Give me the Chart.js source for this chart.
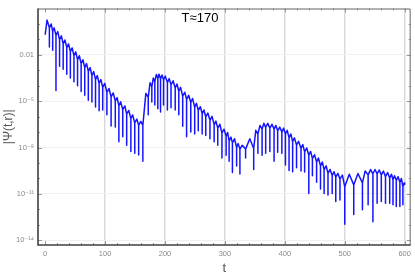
<!DOCTYPE html>
<html lang="en">
<head>
<meta charset="UTF-8">
<title>|Ψ(t,r)| against t</title>
<script src="https://cdn.jsdelivr.net/npm/chart.js"></script>
<style>
  html, body { margin: 0; padding: 0; background: #fff; }
  #wrap { width: 415px; height: 277px; }
</style>
</head>
<body>
<div id="wrap"><canvas id="psiChart"></canvas></div>
<script>
// first point of the curve and last point of the curve
const startT = 0, startV = 0.2;
const endT = 600, endV = 4.2e-11;

// tops of the arches (one more arch than there are dips)
const peakT = [
  3, 10, 15, 21, 27, 33, 39, 45, 51, 57, 63, 69, 75, 81, 87, 93, 99.5, 106.5, 113.5, 120, 126, 133, 139.5, 146, 153, 159.5, 168,
  175, 180.5, 185.5, 190, 195, 200.5, 207, 213.5, 220, 226, 233, 239.5, 246, 252.5, 259, 265, 271.5, 278.5, 285, 291.5, 298.5, 304.5, 310, 316, 322, 329, 341.5, 351.5,
  358.5, 365, 371.5, 378.5, 385, 391.5, 398, 404, 410, 416, 423, 430, 436.5, 443, 449.5, 456, 462.5, 469, 475.5, 482, 488.5, 496, 507.5,
  522, 534, 543, 550.5, 557.5, 564.5, 571.5, 578, 583, 589, 594.5, 599
];
const peakV = [
  1.8, 1.0, 0.56, 0.32, 0.17, 0.092, 0.051, 0.028, 0.0155, 8.7e-3, 4.8e-3, 2.7e-3, 1.5e-3, 8.2e-4, 4.5e-4, 2.5e-4, 1.4e-4, 6.6e-5, 3.4e-5, 1.7e-5, 9.1e-6, 4.9e-6, 2.5e-6, 1.3e-6, 6.9e-7, 4.9e-7, 3.2e-5,
  1.55e-4, 3.2e-4, 5.4e-4, 5.6e-4, 4.9e-4, 4.2e-4, 2.9e-4, 2.1e-4, 1.3e-4, 7.9e-5, 3.8e-5, 2.4e-5, 1.5e-5, 7.2e-6, 4.4e-6, 2.7e-6, 1.7e-6, 1.05e-6, 5.1e-7, 3.2e-7, 1.55e-7, 9.5e-8, 4.7e-8, 3.7e-8, 1.8e-8, 1.4e-8, 3.7e-8, 1.3e-7,
  2.7e-7, 3.7e-7, 3.7e-7, 3.2e-7, 2.7e-7, 2.1e-7, 1.8e-7, 1.3e-7, 7.5e-8, 4.2e-8, 2.5e-8, 1.55e-8, 9.3e-9, 5.6e-9, 3.4e-9, 2.1e-9, 1.15e-9, 6.5e-10, 3.8e-10, 2.7e-10, 2.1e-10, 1.65e-10, 1.85e-10,
  2.1e-10, 3e-10, 3.7e-10, 3.8e-10, 3.5e-10, 3e-10, 2.4e-10, 1.85e-10, 1.5e-10, 1.3e-10, 1e-10, 5.1e-11
];

// the downward spikes between the arches: time, level where two arches meet, bottom of the spike
const dipT = [
  7, 12.5, 18, 24, 30, 36, 42, 48, 54, 60, 66, 72, 78, 84, 90, 96, 103, 110, 117, 123, 129.5, 136, 143, 149.5, 156, 163,
  172, 178, 183, 188, 192.5, 197.5, 204, 210, 217, 223, 229.5, 236, 243, 249.5, 255.5, 262, 268, 275, 282, 288, 295, 302, 307, 312.5, 319.5, 325, 334.5, 348,
  355, 362, 368, 375, 382, 388, 395, 401, 407, 413, 419.5, 427, 433, 440, 446, 453, 459.5, 465.5, 472, 479, 485, 492, 500,
  515, 529.5, 539, 547, 554, 561, 568, 575, 580.5, 586, 592, 597
];
const notchV = [
  0.56, 0.32, 0.18, 0.094, 0.051, 0.029, 0.016, 8.8e-3, 4.9e-3, 2.7e-3, 1.5e-3, 8.3e-4, 4.6e-4, 2.5e-4, 1.4e-4, 7.9e-5, 3.7e-5, 1.9e-5, 1e-5, 5.1e-6, 2.8e-6, 1.45e-6, 7.4e-7, 3.9e-7, 2.7e-7, 2.7e-7,
  1.8e-5, 8.7e-5, 1.8e-4, 3e-4, 2.7e-4, 2.4e-4, 1.6e-4, 1.15e-4, 7.2e-5, 4.4e-5, 2.1e-5, 1.3e-5, 8.3e-6, 4.1e-6, 2.5e-6, 1.55e-6, 9.5e-7, 5.9e-7, 2.9e-7, 1.8e-7, 8.7e-8, 5.4e-8, 2.6e-8, 2e-8, 1e-8, 7.9e-9, 7.9e-9, 8.7e-9,
  7.5e-8, 1.55e-7, 2e-7, 1.8e-7, 1.55e-7, 1.2e-7, 1e-7, 7.5e-8, 4.2e-8, 2.4e-8, 1.45e-8, 8.7e-9, 5.2e-9, 3.2e-9, 1.9e-9, 1.15e-9, 6.5e-10, 3.7e-10, 2.1e-10, 1.55e-10, 1.2e-10, 9.3e-11, 2.9e-11,
  3.8e-11, 5.1e-11, 1.7e-10, 2e-10, 1.95e-10, 1.7e-10, 1.3e-10, 1.05e-10, 8.3e-11, 7.5e-11, 5.6e-11, 2.9e-11
];
const dipV = [
  0.032, 0.02, 4.9e-5, 1.8e-3, 1.15e-3, 5.6e-4, 3.2e-4, 1.8e-4, 1e-4, 4.2e-5, 2.4e-5, 1.15e-5, 8.7e-6, 4.2e-6, 2.4e-6, 2.7e-6, 1.3e-6, 2.5e-7, 2.1e-7, 2.4e-8, 4.9e-8, 1.4e-8, 5.6e-9, 4.2e-9, 3.3e-9, 1.3e-9,
  1.3e-6, 8.7e-6, 5.6e-6, 3.2e-6, 2e-6, 5.6e-6, 2.7e-6, 3.7e-6, 2.7e-6, 1.3e-6, 2.4e-7, 4.9e-8, 1e-7, 7.5e-8, 1.2e-7, 7.5e-8, 5.9e-8, 3.7e-8, 2.4e-8, 1.4e-8, 2.1e-9, 3.2e-9, 1.3e-9, 2.4e-10, 6.3e-10, 1.9e-10, 2.1e-9, 3.8e-10,
  4.2e-9, 3.2e-9, 4.2e-9, 5.6e-9, 1.3e-9, 4.9e-9, 4.2e-9, 7.5e-10, 3.2e-10, 2.7e-10, 4.9e-10, 3e-10, 2.6e-10, 1.05e-11, 1.5e-10, 5.6e-11, 2.1e-11, 1.05e-11, 8.3e-12, 1.05e-11, 3.2e-12, 4e-12, 1.1e-13,
  4.7e-13, 9.5e-13, 1.95e-12, 1.55e-13, 2.5e-12, 3.2e-12, 2.5e-12, 2.5e-12, 1.95e-12, 1.55e-12, 1.55e-12, 1.95e-12
];

const xTicks = [0, 100, 200, 300, 400, 500, 600];
const yTicks = [1e-14, 1e-11, 1e-8, 1e-5, 1e-2];
const yTickLabels = ['10⁻¹⁴', '10⁻¹¹', '10⁻⁸', '10⁻⁵', '0.01'];
const chartLabel = 'T≈170';

// point list: arch top, down the spike and back up, next arch top ...
const points = [{ x: startT, y: startV }, { x: peakT[0], y: peakV[0] }];
for (let i = 0; i < dipT.length; i++) {
  points.push({ x: dipT[i], y: notchV[i] });
  points.push({ x: dipT[i], y: dipV[i] });
  points.push({ x: dipT[i], y: notchV[i] });
  points.push({ x: peakT[i + 1], y: peakV[i + 1] });
}
points.push({ x: endT, y: endV });

const FONT = '"Liberation Sans", "DejaVu Sans", sans-serif';

// frame round the plot, small inward ticks and the T label
const framePlugin = {
  id: 'framePlugin',
  afterDraw(chart) {
    const { ctx, chartArea: a, scales } = chart;
    ctx.save();
    ctx.strokeStyle = '#9a9a9a';
    ctx.lineWidth = 1;
    for (let t = 0; t <= 600; t += 20) {
      const px = Math.round(scales.x.getPixelForValue(t)) + 0.5;
      const len = t % 100 === 0 ? 4 : 2;
      ctx.beginPath();
      ctx.moveTo(px, a.bottom); ctx.lineTo(px, a.bottom - len);
      ctx.moveTo(px, a.top); ctx.lineTo(px, a.top + len);
      ctx.stroke();
    }
    for (let e = -14; e <= 0; e++) {
      const py = Math.round(scales.y.getPixelForValue(Math.pow(10, e))) + 0.5;
      const len = (e + 14) % 3 === 0 ? 4 : 2;
      ctx.beginPath();
      ctx.moveTo(a.left, py); ctx.lineTo(a.left + len, py);
      ctx.moveTo(a.right, py); ctx.lineTo(a.right - len, py);
      ctx.stroke();
    }
    // top and right side of the frame
    ctx.strokeStyle = '#666';
    ctx.lineWidth = 1;
    ctx.beginPath();
    ctx.moveTo(a.left, a.top + 0.5); ctx.lineTo(a.right - 0.5, a.top + 0.5);
    ctx.lineTo(a.right - 0.5, a.bottom);
    ctx.stroke();
    // left and bottom axis
    ctx.strokeStyle = '#404040';
    ctx.lineWidth = 1.6;
    ctx.beginPath();
    ctx.moveTo(a.left, a.top); ctx.lineTo(a.left, a.bottom); ctx.lineTo(a.right, a.bottom);
    ctx.stroke();
    // label inside the plot
    ctx.fillStyle = '#000';
    ctx.font = '13px ' + FONT;
    ctx.textAlign = 'center';
    ctx.textBaseline = 'middle';
    ctx.fillText(chartLabel, 200, 18);
    ctx.restore();
  }
};

const ctx = document.getElementById('psiChart').getContext('2d');
new Chart(ctx, {
  type: 'line',
  data: {
    datasets: [{
      data: points,
      borderColor: '#1414ff',
      borderWidth: 1.5,
      borderJoinStyle: 'round',
      pointRadius: 0,
      tension: 0,
      fill: false
    }]
  },
  options: {
    responsive: true,
    maintainAspectRatio: false,
    animation: false,
    layout: { padding: { top: 0, right: 4, bottom: 0, left: 0 } },
    plugins: { legend: { display: false }, tooltip: { enabled: false } },
    scales: {
      x: {
        type: 'linear',
        min: -12,
        max: 610,
        afterBuildTicks: s => { s.ticks = xTicks.map(v => ({ value: v })); },
        afterFit: s => { s.height = 32; },
        grid: {
          color: c => (c.tick && c.tick.value > 0 ? '#d8d8d8' : 'rgba(0,0,0,0)'),
          lineWidth: 1.4,
          drawTicks: false
        },
        border: { display: false },
        ticks: { color: '#8a8a8a', font: { family: FONT, size: 7.5 }, padding: 4, maxRotation: 0 },
        title: { display: true, text: 't', color: '#555', font: { family: FONT, size: 13 }, padding: { top: 0, bottom: 1 } }
      },
      y: {
        type: 'logarithmic',
        min: 4.9e-15,
        max: 10,
        afterBuildTicks: s => { s.ticks = yTicks.map(v => ({ value: v })); },
        afterFit: s => { s.width = 38; },
        grid: { color: '#f0f0f0', lineWidth: 1, drawTicks: false },
        border: { display: false },
        ticks: {
          color: '#8a8a8a',
          font: { family: FONT, size: 7.5 },
          padding: 4,
          callback: v => { const i = yTicks.indexOf(v); return i >= 0 ? yTickLabels[i] : ''; }
        },
        title: { display: true, text: '|Ψ(t,r)|', color: '#555', font: { family: FONT, size: 12 }, padding: { top: 1, bottom: 0 } }
      }
    }
  },
  plugins: [framePlugin]
});
</script>
</body>
</html>
